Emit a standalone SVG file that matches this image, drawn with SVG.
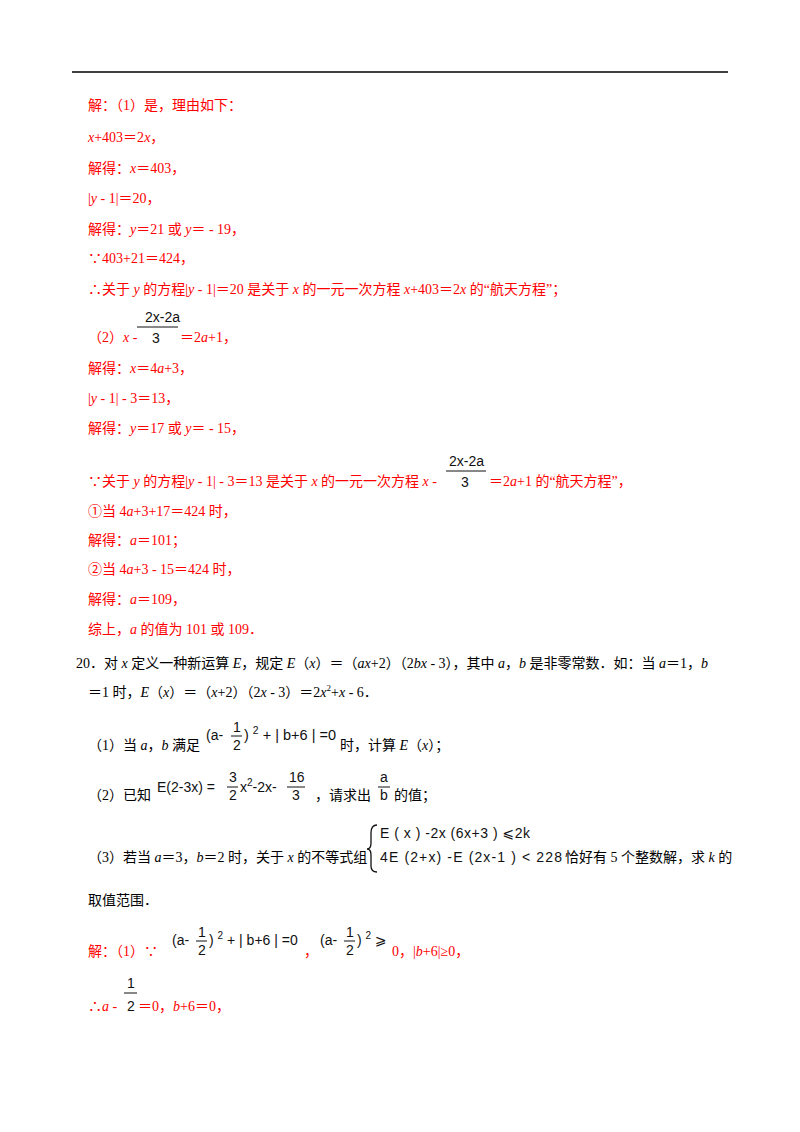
<svg xmlns="http://www.w3.org/2000/svg" width="800" height="1132" viewBox="0 0 800 1132">
<style>
text{font-family:"Liberation Serif","Noto Sans CJK SC",serif;font-size:14px}
.r{fill:#f00}
.k{fill:#000}
.m{font-family:"Liberation Sans","DejaVu Sans",sans-serif;font-size:14px;fill:#111}
.i{font-style:italic}
.fl{stroke:#111;stroke-width:1}
</style>
<rect width="800" height="1132" fill="#fff"/>
<line x1="72" y1="72" x2="728" y2="72" stroke="#000" stroke-width="1.5"/>
<g class="r">
<text x="88" y="110" class="r">解：（1）是，理由如下：</text>
<text x="88" y="142" class="r"><tspan class="i">x</tspan>+403＝2<tspan class="i">x</tspan>，</text>
<text x="88" y="173" class="r">解得：<tspan class="i">x</tspan>＝403，</text>
<text x="88" y="203" class="r">|<tspan class="i">y</tspan> - 1|＝20，</text>
<text x="88" y="234" class="r">解得：<tspan class="i">y</tspan>＝21 或 <tspan class="i">y</tspan>＝ - 19，</text>
<text x="88" y="263" class="r">∵403+21＝424，</text>
<text x="88" y="294" class="r">∴关于 <tspan class="i">y</tspan> 的方程|<tspan class="i">y</tspan> - 1|＝20 是关于 <tspan class="i">x</tspan> 的一元一次方程 <tspan class="i">x</tspan>+403＝2<tspan class="i">x</tspan> 的“航天方程”；</text>
<text x="88" y="342" class="r">（2）<tspan class="i">x</tspan> -</text>
<text x="180" y="342" class="r">＝2<tspan class="i">a</tspan>+1，</text>
<text x="88" y="373" class="r">解得：<tspan class="i">x</tspan>＝4<tspan class="i">a</tspan>+3，</text>
<text x="88" y="403" class="r">|<tspan class="i">y</tspan> - 1| - 3＝13，</text>
<text x="88" y="433" class="r">解得：<tspan class="i">y</tspan>＝17 或 <tspan class="i">y</tspan>＝ - 15，</text>
<text x="88" y="486" class="r">∵关于 <tspan class="i">y</tspan> 的方程|<tspan class="i">y</tspan> - 1| - 3＝13 是关于 <tspan class="i">x</tspan> 的一元一次方程 <tspan class="i">x</tspan> -</text>
<text x="489" y="486" class="r">＝2<tspan class="i">a</tspan>+1 的“航天方程”，</text>
<text x="88" y="516" class="r">①当 4<tspan class="i">a</tspan>+3+17＝424 时，</text>
<text x="88" y="545" class="r">解得：<tspan class="i">a</tspan>＝101；</text>
<text x="88" y="574" class="r">②当 4<tspan class="i">a</tspan>+3 - 15＝424 时，</text>
<text x="88" y="604" class="r">解得：<tspan class="i">a</tspan>＝109，</text>
<text x="88" y="634" class="r">综上，<tspan class="i">a</tspan> 的值为 101 或 109．</text>
</g>
<g class="m">
<text x="145" y="322" class="m">2x-2a</text><line x1="137" y1="327" x2="178" y2="327" class="fl"/><text x="152" y="343" class="m">3</text>
<text x="449" y="466" class="m">2x-2a</text><line x1="446" y1="471" x2="486" y2="471" class="fl"/><text x="461" y="487" class="m">3</text>
</g>
<g class="k">
<text x="76" y="668">20．对 <tspan class="i">x</tspan> 定义一种新运算 <tspan class="i">E</tspan>，规定 <tspan class="i">E</tspan>（<tspan class="i">x</tspan>）＝（<tspan class="i">ax</tspan>+2）（2<tspan class="i">bx</tspan> - 3），其中 <tspan class="i">a</tspan>，<tspan class="i">b</tspan> 是非零常数．如：当 <tspan class="i">a</tspan>＝1，<tspan class="i">b</tspan></text>
<text x="88" y="697">＝1 时，<tspan class="i">E</tspan>（<tspan class="i">x</tspan>）＝（<tspan class="i">x</tspan>+2）（2<tspan class="i">x</tspan> - 3）＝2<tspan class="i">x</tspan><tspan dy="-6" font-size="9">2</tspan><tspan dy="6">+<tspan class="i">x</tspan> - 6．</tspan></text>
<text x="88" y="750">（1）当 <tspan class="i">a</tspan>，<tspan class="i">b</tspan> 满足</text>
<text x="340" y="750">时，计算 <tspan class="i">E</tspan>（<tspan class="i">x</tspan>）；</text>
<text x="88" y="800">（2）已知</text>
<text x="315" y="800">，请求出</text>
<text x="394" y="800">的值；</text>
<text x="88" y="862">（3）若当 <tspan class="i">a</tspan>＝3，<tspan class="i">b</tspan>＝2 时，关于 <tspan class="i">x</tspan> 的不等式组</text>
<text x="565" y="862">恰好有 5 个整数解，求 <tspan class="i">k</tspan> 的</text>
<text x="88" y="905">取值范围．</text>
</g>
<g class="m">
<text x="206" y="740" class="m">(a-</text><text x="233" y="732" class="m">1</text><line x1="231" y1="736" x2="242" y2="736" class="fl"/><text x="233" y="750" class="m">2</text><text x="244" y="740" class="m" textLength="92" lengthAdjust="spacingAndGlyphs">) <tspan dy="-6" font-size="10">2</tspan><tspan dy="6"> + | b+6 | =0</tspan></text>
<text x="157" y="792" class="m">E(2-3x) =</text><text x="229" y="782" class="m">3</text><line x1="227" y1="787" x2="238" y2="787" class="fl"/><text x="229" y="800" class="m">2</text><text x="240" y="792" class="m">x<tspan dy="-6" font-size="10">2</tspan><tspan dy="6">-2x-</tspan></text><text x="289" y="782" class="m">16</text><line x1="287" y1="787" x2="305" y2="787" class="fl"/><text x="292" y="800" class="m">3</text>
<text x="380" y="782" class="m">a</text><line x1="378" y1="787" x2="390" y2="787" class="fl"/><text x="380" y="800" class="m">b</text>
<path d="M377 825 Q371 825 371 833 L371 843 Q371 849 367 849 Q371 849 371 855 L371 866 Q371 872 377 872" fill="none" stroke="#111" stroke-width="1.3"/>
<text x="380" y="838" class="m" textLength="150" lengthAdjust="spacing">E ( x ) -2x (6x+3 ) ⩽2k</text>
<text x="380" y="862" class="m" textLength="182" lengthAdjust="spacing">4E (2+x) -E (2x-1 ) &lt; 228</text>
</g>
<g class="r">
<text x="88" y="956" class="r">解：（1）∵</text>
<text x="304" y="956" class="r">，</text>
<text x="392" y="956" class="r">0，|<tspan class="i">b</tspan>+6|≥0，</text>
<text x="88" y="1011" class="r">∴<tspan class="i">a</tspan> -</text>
<text x="138" y="1011" class="r">＝0，<tspan class="i">b</tspan>+6＝0，</text>
</g>
<g class="m">
<text x="172" y="945" class="m">(a-</text><text x="198" y="937" class="m">1</text><line x1="196" y1="941" x2="207" y2="941" class="fl"/><text x="198" y="955" class="m">2</text><text x="209" y="945" class="m">) <tspan dy="-6" font-size="10">2</tspan><tspan dy="6"> + | b+6 | =0</tspan></text>
<text x="320" y="945" class="m">(a-</text><text x="346" y="937" class="m">1</text><line x1="344" y1="941" x2="355" y2="941" class="fl"/><text x="346" y="955" class="m">2</text><text x="357" y="945" class="m">) <tspan dy="-6" font-size="10">2</tspan><tspan dy="6"> ⩾</tspan></text>
<text x="127" y="988" class="m">1</text><line x1="124" y1="993" x2="137" y2="993" class="fl"/><text x="127" y="1011" class="m">2</text>
</g>
</svg>
